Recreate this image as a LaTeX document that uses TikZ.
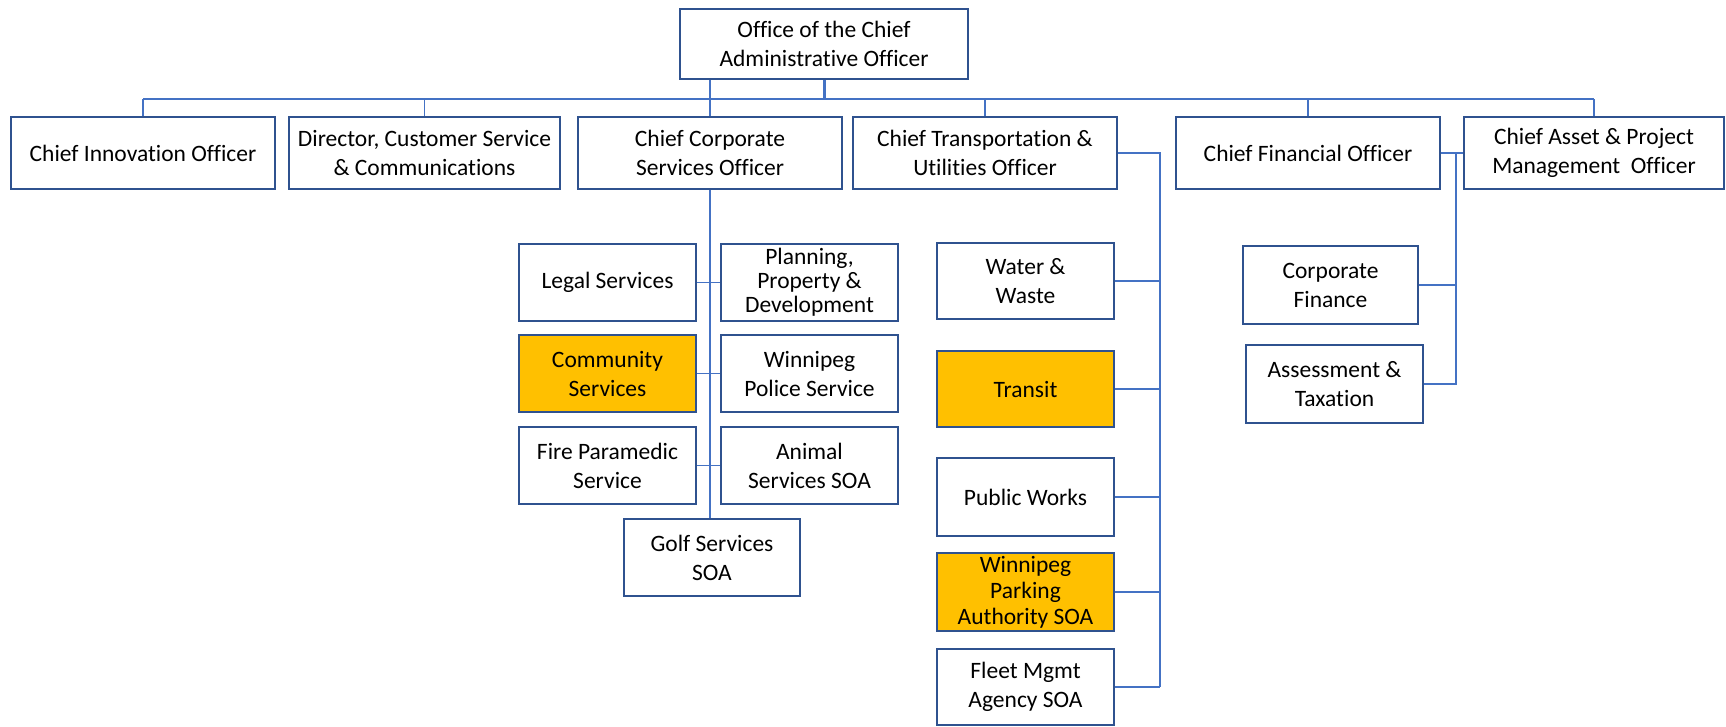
\documentclass[tikz,border=0pt]{standalone}
\usepackage{fontspec}
\setmainfont[Ligatures=NoCommon]{Carlito}
\usepackage{tikz}

\definecolor{boxline}{HTML}{2F528F}
\definecolor{linkblue}{HTML}{4472C4}
\definecolor{gold}{HTML}{FFC000}

\begin{document}
\begin{tikzpicture}[x=1pt, y=-1pt,
    unit/.style={draw=boxline, line width=2pt, fill=white, align=center,
      inner sep=0pt, minimum width=177pt, minimum height=77pt,
      font=\fontsize{23.5}{29}\selectfont},
    chief/.style={unit, minimum width=264pt, minimum height=72pt},
    hilite/.style={fill=gold},
    link/.style={draw=linkblue, line width=1.6pt}]
    \useasboundingbox (0,0) rectangle (1726,726);

    %% CAO and the chiefs
    \node[chief, minimum width=288pt, minimum height=70pt] (cao) at (824,44) {Office of the Chief\\Administrative Officer};
    \node[chief] (cio) at (143,153) {Chief Innovation Officer};
    \node[chief, minimum width=271pt] (dir) at (424.5,153) {Director, Customer Service\\\& Communications};
    \node[chief] (ccso) at (710,153) {Chief Corporate\\Services Officer};
    \node[chief] (ctuo) at (985,153) {Chief Transportation \&\\Utilities Officer};
    \node[chief] (cfo) at (1308,153) {Chief Financial Officer};
    \node[chief, minimum width=260pt] (capmo) at (1594,153) {Chief Asset \& Project\\Management~ Officer};
    \coordinate (bus) at (0,99);

    \draw[link, line width=3pt] (cao.south) -- (cao.south |- bus);
    \draw[link] (cio.north |- bus) -- (capmo.north |- bus);
    \foreach \n in {cio,dir,ctuo,cfo,capmo}
      \draw[link] (\n.north |- bus) -- (\n.north);
    \draw[link] (ccso.north |- cao.south) -- (ccso.north);

    %% corporate services
    \node[unit] (legal) at (607.5,282.5) {Legal Services};
    \node[unit, font=\fontsize{23.5}{24}\selectfont] (plan) at (809.5,282.5) {Planning,\\Property \&\\Development};
    \node[unit, hilite] (comm) at (607.5,373.5) {Community\\Services};
    \node[unit] (police) at (809.5,373.5) {Winnipeg\\Police Service};
    \node[unit] (fire) at (607.5,465.5) {Fire Paramedic\\Service};
    \node[unit] (animal) at (809.5,465.5) {Animal\\Services SOA};
    \node[unit, minimum width=176pt] (golf) at (712,557.5) {Golf Services\\SOA};

    \draw[link] (ccso.south) -- (ccso.south |- golf.north);
    \draw[link] (legal.east) -- (plan.west);
    \draw[link] (comm.east) -- (police.west);
    \draw[link] (fire.east) -- (animal.west);

    %% transportation & utilities
    \node[unit, minimum height=76pt] (water) at (1025.5,281) {Water \&\\Waste};
    \node[unit, hilite, minimum height=76pt] (transit) at (1025.5,389) {Transit};
    \node[unit, minimum height=78pt] (works) at (1025.5,497) {Public Works};
    \node[unit, hilite, minimum height=78pt, font=\fontsize{23.5}{26}\selectfont] (parking) at (1025.5,592) {Winnipeg\\Parking\\Authority SOA};
    \node[unit, minimum height=76pt] (fleet) at (1025.5,687) {Fleet Mgmt\\Agency SOA};
    \coordinate (tspine) at (1160,0);

    \draw[link] (ctuo.east) -| (tspine |- fleet.east);
    \foreach \n in {water,transit,works,parking,fleet}
      \draw[link] (\n.east) -- (\n.east -| tspine);

    %% finance
    \node[unit, minimum width=175pt, minimum height=78pt] (corpfin) at (1330.5,285) {Corporate\\Finance};
    \node[unit, minimum height=78pt] (tax) at (1334.5,384) {Assessment \&\\Taxation};
    \coordinate (fspine) at (1456,0);

    \draw[link] (cfo.east) -- (capmo.west);
    \draw[link] (cfo.east -| fspine) |- (tax.east);
    \draw[link] (corpfin.east) -- (corpfin.east -| fspine);
\end{tikzpicture}
\end{document}
